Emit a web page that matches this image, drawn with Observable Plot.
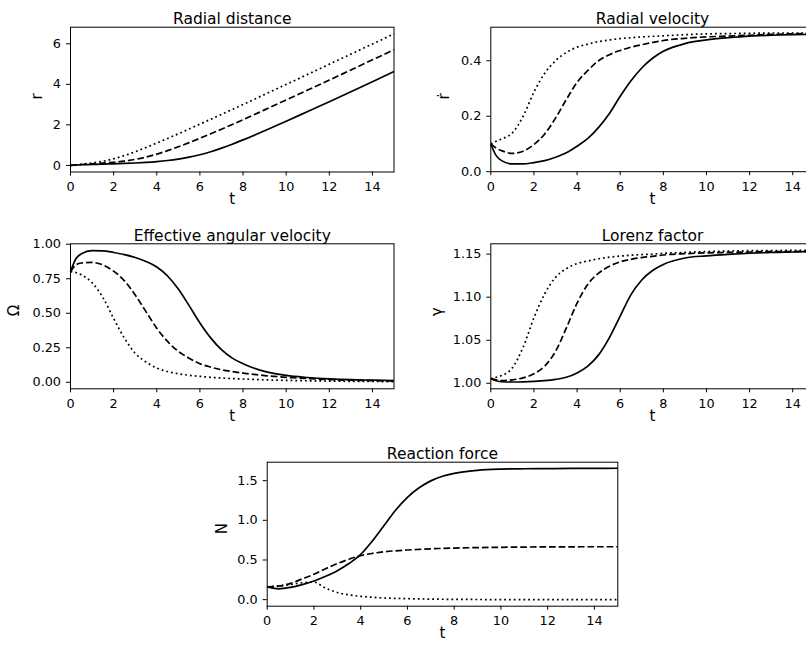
<!DOCTYPE html>
<html><head><meta charset="utf-8">
<script src="https://cdn.jsdelivr.net/npm/d3@7"></script>
<script src="https://cdn.jsdelivr.net/npm/@observablehq/plot@0.6"></script>
<style>
html,body{margin:0;padding:0;background:#fff;overflow:hidden;}
#wrap{position:relative;width:806px;height:648px;overflow:hidden;background:#fff;}
#wrap svg{position:absolute;left:0;top:0;}
</style></head><body><div id="wrap"></div>
<script>
// time samples
const T = [0, 0.25, 0.5, 1, 1.5, 2, 2.5, 3, 3.5, 4, 4.5, 5, 5.5, 6, 6.5, 7, 7.5, 8, 9, 10, 11, 12, 13, 14, 15];
const xTicks = [0, 2, 4, 6, 8, 10, 12, 14];

// Radial distance r
const rSolid  = [0, 0.02, 0.032, 0.049, 0.063, 0.079, 0.097, 0.12, 0.15, 0.19, 0.243, 0.313, 0.405, 0.526, 0.677, 0.852, 1.047, 1.259, 1.71, 2.18, 2.66, 3.14, 3.63, 4.13, 4.63];
const rDashed = [0, 0.023, 0.044, 0.079, 0.114, 0.157, 0.216, 0.298, 0.411, 0.557, 0.729, 0.92, 1.125, 1.34, 1.562, 1.789, 2.02, 2.255, 2.74, 3.23, 3.72, 4.21, 4.71, 5.21, 5.71];
const rDotted = [0, 0.027, 0.055, 0.12, 0.205, 0.326, 0.486, 0.675, 0.883, 1.103, 1.33, 1.562, 1.798, 2.037, 2.278, 2.52, 2.764, 3.008, 3.5, 3.996, 4.493, 4.992, 5.491, 5.991, 6.491];

// Radial velocity r-dot
const vSolid  = [0.1, 0.058, 0.04, 0.028, 0.028, 0.033, 0.04, 0.052, 0.068, 0.092, 0.12, 0.16, 0.21, 0.272, 0.328, 0.374, 0.409, 0.434, 0.462, 0.475, 0.483, 0.489, 0.492, 0.494, 0.495];
const vDashed = [0.1, 0.085, 0.076, 0.066, 0.074, 0.098, 0.136, 0.193, 0.26, 0.322, 0.365, 0.4, 0.422, 0.437, 0.449, 0.458, 0.466, 0.473, 0.481, 0.486, 0.489, 0.492, 0.495, 0.497, 0.498];
const vDotted = [0.1, 0.11, 0.118, 0.14, 0.2, 0.287, 0.355, 0.4, 0.43, 0.449, 0.46, 0.469, 0.475, 0.48, 0.483, 0.486, 0.488, 0.49, 0.494, 0.497, 0.498, 0.499, 0.5, 0.5, 0.5];

// Effective angular velocity Omega
const wSolid  = [0.8, 0.895, 0.93, 0.953, 0.952, 0.94, 0.925, 0.904, 0.875, 0.835, 0.77, 0.675, 0.555, 0.43, 0.322, 0.236, 0.175, 0.135, 0.079, 0.05, 0.035, 0.025, 0.019, 0.016, 0.013];
const wDashed = [0.8, 0.85, 0.864, 0.868, 0.85, 0.805, 0.735, 0.632, 0.512, 0.392, 0.296, 0.224, 0.175, 0.135, 0.11, 0.091, 0.078, 0.067, 0.049, 0.036, 0.027, 0.02, 0.015, 0.012, 0.01];
const wDotted = [0.8, 0.795, 0.778, 0.722, 0.615, 0.462, 0.32, 0.21, 0.147, 0.103, 0.078, 0.062, 0.051, 0.043, 0.036, 0.031, 0.027, 0.024, 0.018, 0.014, 0.011, 0.009, 0.007, 0.006, 0.005];

// Lorenz factor gamma
const gSolid  = [1.0054, 1.003, 1.0018, 1.0015, 1.0017, 1.0022, 1.003, 1.0045, 1.007, 1.012, 1.02, 1.033, 1.053, 1.078, 1.103, 1.12, 1.131, 1.138, 1.1455, 1.148, 1.1497, 1.151, 1.152, 1.1525, 1.153];
const gDashed = [1.0054, 1.004, 1.003, 1.004, 1.0063, 1.011, 1.02, 1.037, 1.064, 1.093, 1.115, 1.128, 1.136, 1.141, 1.144, 1.146, 1.1475, 1.149, 1.1505, 1.1515, 1.152, 1.1525, 1.153, 1.153, 1.1535];
const gDotted = [1.0054, 1.007, 1.009, 1.018, 1.042, 1.076, 1.104, 1.123, 1.133, 1.139, 1.142, 1.1446, 1.1465, 1.1477, 1.1487, 1.1495, 1.15, 1.151, 1.152, 1.153, 1.1535, 1.154, 1.154, 1.1545, 1.1545];

// Reaction force N
const nSolid  = [0.161, 0.145, 0.137, 0.155, 0.19, 0.235, 0.295, 0.365, 0.455, 0.57, 0.74, 0.935, 1.13, 1.29, 1.41, 1.497, 1.555, 1.592, 1.63, 1.645, 1.65, 1.652, 1.654, 1.655, 1.656];
const nDashed = [0.161, 0.164, 0.17, 0.205, 0.262, 0.32, 0.39, 0.455, 0.51, 0.555, 0.583, 0.603, 0.616, 0.626, 0.634, 0.641, 0.646, 0.65, 0.656, 0.66, 0.663, 0.665, 0.666, 0.667, 0.667];
const nDotted = [0.161, 0.167, 0.174, 0.19, 0.213, 0.22, 0.145, 0.09, 0.06, 0.042, 0.03, 0.021, 0.016, 0.012, 0.009, 0.007, 0.005, 0.004, 0.002, 0.001, 0, 0, 0, 0, 0];

const titles  = ["Radial distance", "Radial velocity", "Effective angular velocity", "Lorenz factor", "Reaction force"];
const yLabels = ["r", "\u1E59", "\u03A9", "\u03B3", "N"];
const yTickSets = [[0, 2, 4, 6], [0, 0.2, 0.4], [0, 0.25, 0.5, 0.75, 1], [1.00, 1.05, 1.10, 1.15], [0, 0.5, 1, 1.5]];
const yFormats = ["d", ".1f", ".2f", ".2f", ".1f"];
const yDomains = [[-0.325, 6.82], [0, 0.521], [-0.047, 1.003], [0.9936, 1.162], [-0.0825, 1.7325]];
const seriesSets = [[rSolid, rDashed, rDotted], [vSolid, vDashed, vDotted], [wSolid, wDashed, wDotted], [gSolid, gDashed, gDotted], [nSolid, nDashed, nDotted]];

// layout (frame edges in px) and styles
const frames = [
  {l: 70, r: 393.5, t: 26.7, b: 171.5, lab: 33},
  {l: 490.3, r: 813.8, t: 26.7, b: 171.2, lab: 47},
  {l: 70, r: 393.5, t: 243.3, b: 388.3, lab: 56},
  {l: 490.3, r: 813.8, t: 243.3, b: 388.3, lab: 54},
  {l: 266.7, r: 617.3, t: 461.7, b: 605.7, lab: 45}
];
const dashes = [null, "6.7,2.9", "1.8,3"];
const W = 830, H = 648;

const wrap = document.getElementById("wrap");
frames.forEach((f, p) => {
  const lines = seriesSets[p].map((arr, k) => Plot.line(
    T.map((t, i) => ({t, v: arr[i]})),
    {x: "t", y: "v", stroke: "black", strokeWidth: 1.7, strokeLinecap: "butt",
     strokeDasharray: dashes[k] || undefined, curve: "monotone-x"}
  ));
  const svg = Plot.plot({
    width: W, height: H,
    marginLeft: f.l, marginRight: W - f.r, marginTop: f.t, marginBottom: H - f.b,
    style: {fontFamily: "DejaVu Sans", fontSize: "12.8px", color: "black", background: "transparent", maxWidth: "none", overflow: "visible"},
    x: {domain: [0, 15], ticks: xTicks, tickSize: 4, tickPadding: 6, label: null},
    y: {domain: yDomains[p], ticks: yTickSets[p], tickFormat: d3.format(yFormats[p]), tickSize: 4, tickPadding: 5.5, label: null},
    marks: [
      ...lines,
      Plot.frame({stroke: "black", strokeWidth: 1}),
      Plot.text([titles[p]], {text: d => d, frameAnchor: "top", dy: -14, fontSize: 15.5}),
      Plot.text(["t"], {text: d => d, frameAnchor: "bottom", dy: 32, fontSize: 15}),
      Plot.text([yLabels[p]], {text: d => d, frameAnchor: "left", dx: -f.lab, rotate: -90, fontSize: 15})
    ]
  });
  wrap.appendChild(svg);
});
</script></body></html>
